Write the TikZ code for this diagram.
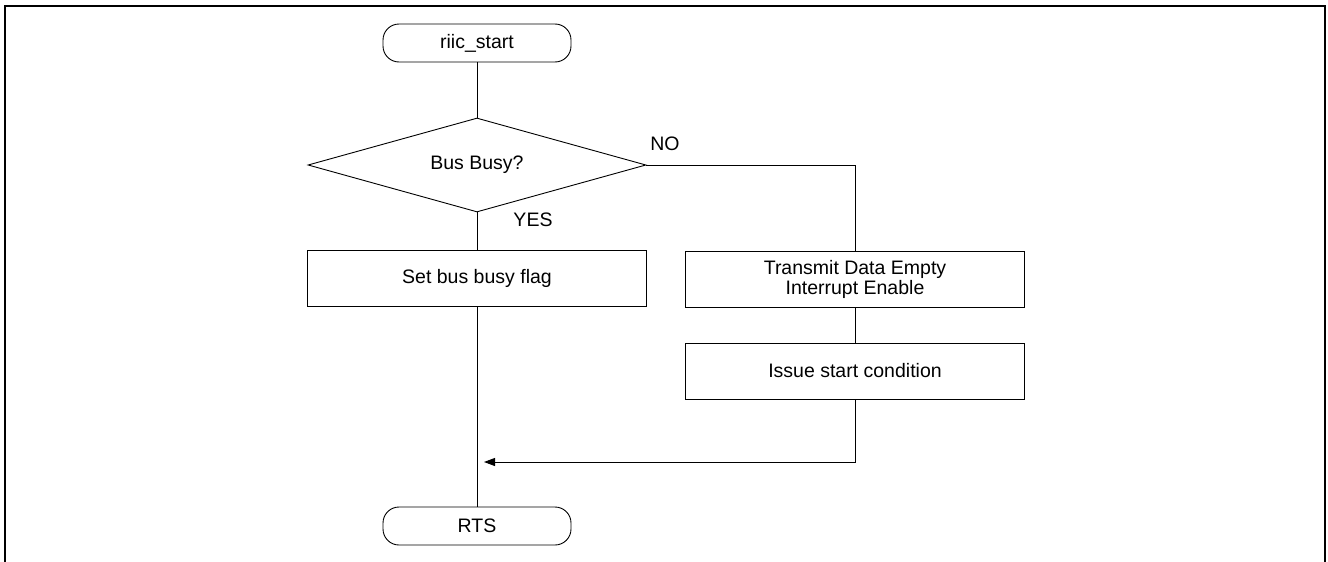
\documentclass[tikz,border=0pt]{standalone}
\usepackage{fontspec}
\setmainfont{Liberation Sans}
\usetikzlibrary{shapes.geometric,arrows.meta}
\begin{document}
\begin{tikzpicture}[x=1pt,y=-1pt,
  every node/.style={font=\fontsize{19.5}{23}\selectfont, text=black},
  term/.style={draw, line width=0.9pt, rounded corners=16pt, minimum width=188pt, minimum height=38pt, inner sep=0pt},
  proc/.style={draw, line width=0.9pt, minimum width=339pt, minimum height=56pt, inner sep=0pt, align=center},
  dec/.style={draw, line width=0.9pt, diamond, aspect=3.6, minimum width=338pt, minimum height=94pt, inner sep=0pt},
  conn/.style={line width=0.9pt},
  lbl/.style={inner sep=0pt}
]
\useasboundingbox (0,0) rectangle (1328,562);
\draw[line width=2pt] (5,562) -- (5,6) -- (1325,6) -- (1325,562);

\node[term] (start) at (477,43) {riic\_start};
\node[dec] (busy) at (477,165) {Bus Busy?};
\node[proc] (flag) at (477,278.5) {Set bus busy flag};
\node[proc] (tx) at (855,279) {Transmit Data Empty\\[-3pt]Interrupt Enable};
\node[proc] (iss) at (855,371) {Issue start condition};
\node[term] (rts) at (477,526) {RTS};
\coordinate (merge) at (477,462);
\coordinate (corner) at (855,165);

\node[lbl] (no) at (665,144) {NO};
\node[lbl] (yes) at (533,220) {YES};

\draw[conn] (start) -- (busy);
\draw[conn] (busy) -- (flag);
\draw[conn] (busy.east) -- (corner) -- (tx.north);
\draw[conn] (tx) -- (iss);
\draw[conn] (flag) -- (rts);
\draw[conn, -{Triangle[length=11pt,width=8pt]}, shorten >=7pt] (iss.south) |- (merge);
\end{tikzpicture}
\end{document}
